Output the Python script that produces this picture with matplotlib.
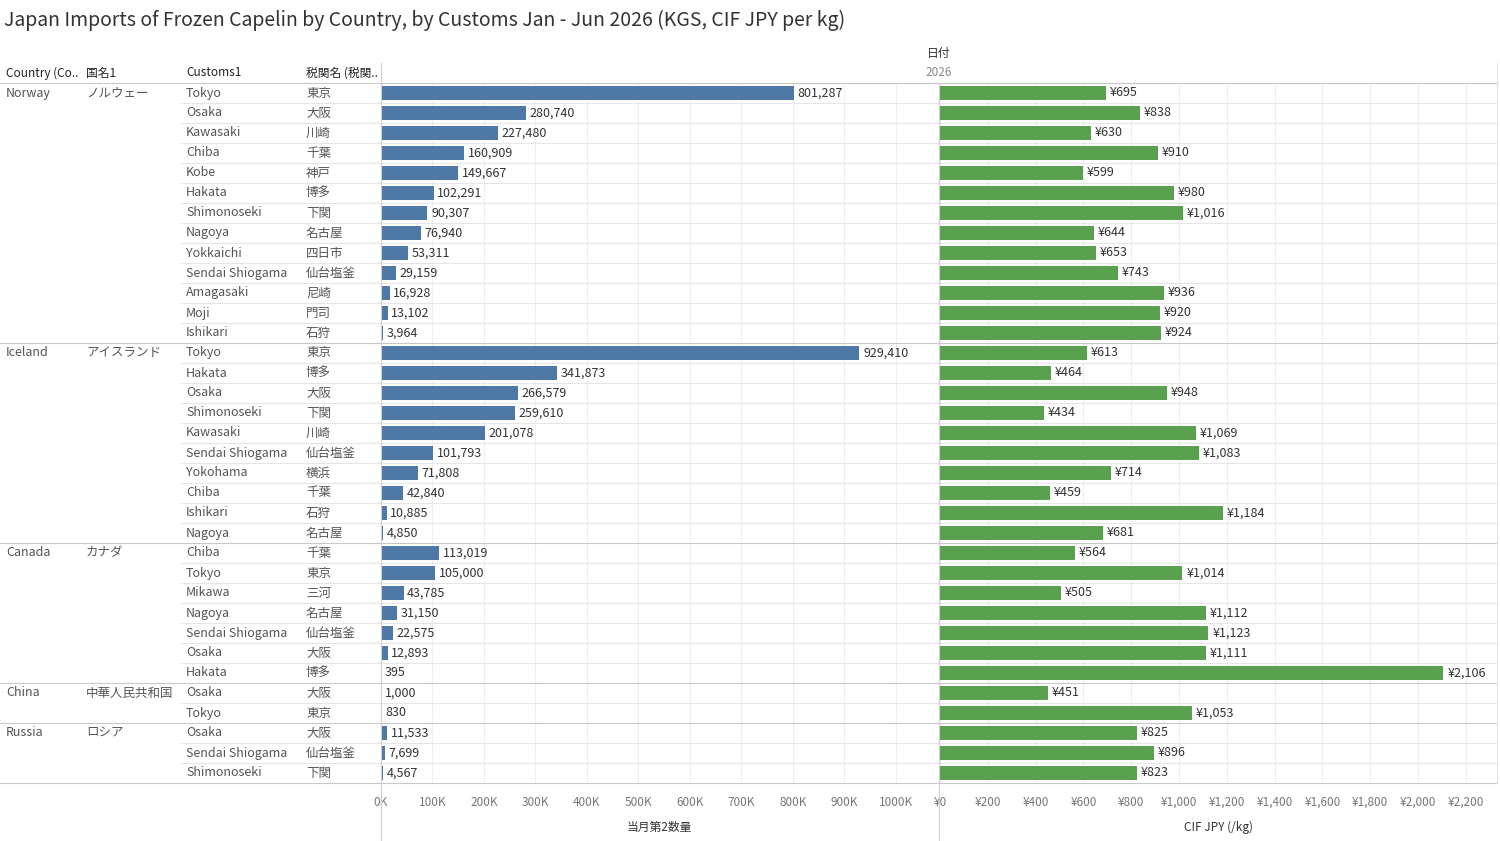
import matplotlib
matplotlib.use("Agg")
import matplotlib.pyplot as plt
from matplotlib.lines import Line2D
from matplotlib.ticker import FuncFormatter

plt.rcParams['font.family'] = ['Noto Sans CJK JP', 'DejaVu Sans']

countries = ["Norway", "Iceland", "Canada", "China", "Russia"]
countries_jp = ["ノルウェー", "アイスランド", "カナダ", "中華人民共和国", "ロシア"]
ports = [
    ["Tokyo", "Osaka", "Kawasaki", "Chiba", "Kobe", "Hakata", "Shimonoseki", "Nagoya",
     "Yokkaichi", "Sendai Shiogama", "Amagasaki", "Moji", "Ishikari"],
    ["Tokyo", "Hakata", "Osaka", "Shimonoseki", "Kawasaki", "Sendai Shiogama", "Yokohama",
     "Chiba", "Ishikari", "Nagoya"],
    ["Chiba", "Tokyo", "Mikawa", "Nagoya", "Sendai Shiogama", "Osaka", "Hakata"],
    ["Osaka", "Tokyo"],
    ["Osaka", "Sendai Shiogama", "Shimonoseki"],
]
ports_jp = [
    ["東京", "大阪", "川崎", "千葉", "神戸", "博多", "下関", "名古屋", "四日市", "仙台塩釜", "尼崎", "門司", "石狩"],
    ["東京", "博多", "大阪", "下関", "川崎", "仙台塩釜", "横浜", "千葉", "石狩", "名古屋"],
    ["千葉", "東京", "三河", "名古屋", "仙台塩釜", "大阪", "博多"],
    ["大阪", "東京"],
    ["大阪", "仙台塩釜", "下関"],
]
quantity = [
    [801287, 280740, 227480, 160909, 149667, 102291, 90307, 76940, 53311, 29159, 16928, 13102, 3964],
    [929410, 341873, 266579, 259610, 201078, 101793, 71808, 42840, 10885, 4850],
    [113019, 105000, 43785, 31150, 22575, 12893, 395],
    [1000, 830],
    [11533, 7699, 4567],
]
price = [
    [695, 838, 630, 910, 599, 980, 1016, 644, 653, 743, 936, 920, 924],
    [613, 464, 948, 434, 1069, 1083, 714, 459, 1184, 681],
    [564, 1014, 505, 1112, 1123, 1111, 2106],
    [451, 1053],
    [825, 896, 823],
]

W, H = 1500, 841
fig = plt.figure(figsize=(15, 8.41), dpi=100)

def fx(x): return x / W
def fy(y): return 1 - y / H

def ftext(x, y, s, **kw):
    kw.setdefault("fontsize", 9)
    kw.setdefault("color", "#555555")
    kw.setdefault("va", "center")
    fig.text(fx(x), fy(y), s, **kw)

def hline(x0, x1, y, color="#e6e6e6", lw=0.8):
    fig.add_artist(Line2D([fx(x0), fx(x1)], [fy(y), fy(y)], color=color, lw=lw, transform=fig.transFigure))

def vline(x, y0, y1, color="#d0d0d0", lw=0.8):
    fig.add_artist(Line2D([fx(x), fx(x)], [fy(y0), fy(y1)], color=color, lw=lw, transform=fig.transFigure))

ftext(4, 20, "Japan Imports of Frozen Capelin by Country, by Customs Jan - Jun 2026 (KGS, CIF JPY per kg)",
      fontsize=14, color="#333333")

# headers
for x, s in [(6, "Country (Co.."), (86, "国名1"), (186, "Customs1"), (306, "税関名 (税関..")]:
    ftext(x, 73, s, color="#222222", fontsize=8.5)
ftext(939, 53, "日付", color="#333333", fontsize=8.5, ha="center")
ftext(939, 73, "2026", color="#888888", fontsize=8.5, ha="center")

top, rowh = 83, 20
nrows = sum(len(p) for p in ports)
bottom = top + nrows * rowh

ax1 = fig.add_axes([fx(381), fy(bottom), fx(937) - fx(381), (bottom - top) / H])
ax2 = fig.add_axes([fx(940), fy(bottom), fx(1497) - fx(940), (bottom - top) / H])

qs, ps = [], []
r = 0
for ci, c in enumerate(countries):
    y0 = top + r * rowh
    ftext(6, y0 + 10, c)
    ftext(86, y0 + 10, countries_jp[ci])
    for pi, p in enumerate(ports[ci]):
        yy = top + r * rowh + 10
        ftext(186, yy, p)
        ftext(306, yy, ports_jp[ci][pi])
        if pi > 0:
            hline(181, 1497, top + r * rowh)
        qs.append(quantity[ci][pi]); ps.append(price[ci][pi])
        r += 1
    hline(0, 1497, y0, color="#c8c8c8")
hline(0, 1497, bottom, color="#c8c8c8")
hline(381, 1497, 83, color="#c8c8c8")

ys = [i + 0.5 for i in range(nrows)]
ax1.barh(ys, qs, height=0.7, color="#4e79a7")
ax2.barh(ys, ps, height=0.7, color="#59a14f")
for y, q in zip(ys, qs):
    ax1.text(q + 7000, y, f"{q:,}", va="center", ha="left", fontsize=9, color="#333333")
for y, p in zip(ys, ps):
    ax2.text(p + 16, y, f"¥{p:,}", va="center", ha="left", fontsize=9, color="#333333")

ax1.set_xlim(0, 1080000)
ax2.set_xlim(0, 2330)
ax1.set_xticks(range(0, 1000001, 100000))
ax1.xaxis.set_major_formatter(FuncFormatter(lambda v, p: f"{int(v/1000)}K"))
ax2.set_xticks(range(0, 2201, 200))
ax2.xaxis.set_major_formatter(FuncFormatter(lambda v, p: f"¥{int(v):,}"))
for ax, lab in [(ax1, "当月第2数量"), (ax2, "CIF JPY (/kg)")]:
    ax.set_ylim(nrows, 0)
    ax.set_yticks([])
    for s in ax.spines.values():
        s.set_visible(False)
    ax.grid(axis="x", color="#eeeeee", lw=0.8)
    ax.set_axisbelow(True)
    ax.tick_params(axis="x", length=0, labelsize=8.5, labelcolor="#777777", pad=9)
    ax.set_xlabel(lab, fontsize=8.5, color="#333333", labelpad=9)

vline(381, 63, 841)
vline(939, 83, 841)
vline(1497, 63, 783, color="#e6e6e6")

fig.savefig("out.png", dpi=100)
